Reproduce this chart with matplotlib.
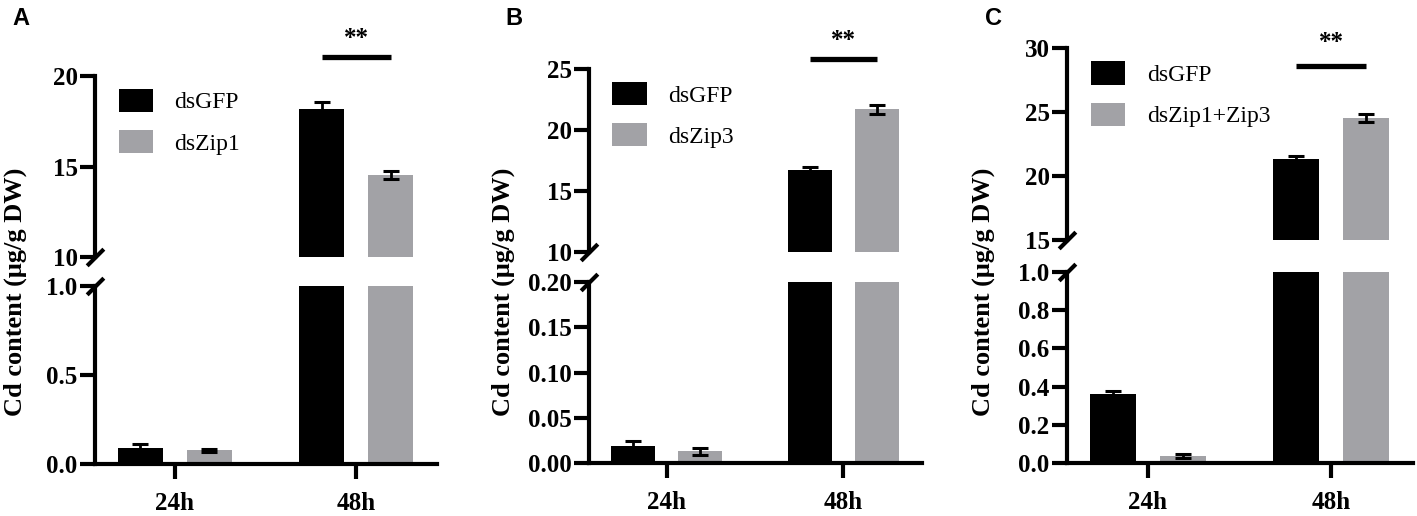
import matplotlib
matplotlib.use('Agg')
import matplotlib.pyplot as plt
import numpy as np

# data
groups = ['24h', '48h']

a_labels = ['dsGFP', 'dsZip1']
a_means = [[0.09, 18.2], [0.078, 14.52]]
a_errs = [[0.022, 0.38], [0.008, 0.22]]

b_labels = ['dsGFP', 'dsZip3']
b_means = [[0.019, 16.76], [0.0128, 21.69]]
b_errs = [[0.005, 0.22], [0.0037, 0.34]]

c_labels = ['dsGFP', 'dsZip1+Zip3']
c_means = [[0.363, 21.3], [0.037, 24.55]]
c_errs = [[0.012, 0.25], [0.012, 0.32]]

W, H = 1417, 516
colors = ['#000000', '#a2a2a6']
serif = 'Liberation Serif'
LW = 3

plt.rcParams['font.family'] = serif
plt.rcParams['font.weight'] = 'bold'
plt.rcParams['font.size'] = 18


def px_rect(x0, y_top, x1, y_bot):
    '''pixel box -> figure fraction [l, b, w, h]'''
    return [x0 / W, 1 - y_bot / H, (x1 - x0) / W, (y_bot - y_top) / H]


def draw_panel(fig, letter, labels, means, errs, lay):
    ax_lo = fig.add_axes(px_rect(lay['x0'], lay['lo'][0], lay['x1'], lay['lo'][1]))
    ax_hi = fig.add_axes(px_rect(lay['x0'], lay['hi'][0], lay['x1'], lay['hi'][1]))

    x = np.arange(len(groups))
    offs = [-0.19, 0.19]
    for ax in (ax_lo, ax_hi):
        for i in range(len(labels)):
            ax.bar(x + offs[i], means[i], width=0.25, color=colors[i],
                   label=labels[i], zorder=2)
            ax.errorbar(x + offs[i], means[i], yerr=errs[i], fmt='none',
                        ecolor='black', elinewidth=2, capsize=6, capthick=2.2,
                        zorder=3)
        ax.set_xlim(-0.44, 1.445)
        for s in ('top', 'right'):
            ax.spines[s].set_visible(False)
        for s in ('left', 'bottom'):
            ax.spines[s].set_linewidth(LW)
        ax.tick_params(axis='y', width=LW, length=11, pad=1.5, labelsize=18)
        ax.tick_params(axis='x', width=LW, length=11, pad=9, labelsize=18)

    ax_lo.set_ylim(0, lay['lo_top'])
    ax_lo.set_yticks(lay['lo_ticks'])
    ax_lo.set_yticklabels([lay['fmt'] % v for v in lay['lo_ticks']],
                          fontfamily=serif, fontweight='bold')
    ax_lo.set_xticks(x)
    ax_lo.set_xticklabels(groups, fontfamily=serif, fontweight='bold')

    ax_hi.set_ylim(lay['hi_lim'])
    ax_hi.set_yticks(lay['hi_ticks'])
    ax_hi.set_yticklabels(['%d' % v for v in lay['hi_ticks']],
                          fontfamily=serif, fontweight='bold')
    ax_hi.spines['bottom'].set_visible(False)
    ax_hi.set_xticks([])

    # break marks
    kw = dict(marker=[(-1, -1), (1, 1)], markersize=12, linestyle='none',
              color='k', mec='k', mew=LW, clip_on=False)
    ax_hi.plot([0], [0], transform=ax_hi.transAxes, **kw)
    ax_lo.plot([0], [1], transform=ax_lo.transAxes, **kw)

    # significance
    sy, ty = lay['sig']
    ax_hi.plot([1 - 0.19, 1 + 0.19], [sy, sy], color='k', lw=3.8,
               solid_capstyle='butt', clip_on=False)
    ax_hi.text(1, ty, '**', ha='center', va='center', fontsize=18,
               fontweight='bold', clip_on=False)

    ax_hi.legend(loc='upper left', bbox_to_anchor=(0.07, 0.93),
                 frameon=False, borderpad=0, borderaxespad=0,
                 handlelength=1.45, handleheight=1.15, handletextpad=0.9,
                 labelspacing=0.7,
                 prop={'family': serif, 'size': 17, 'weight': 'normal'})

    fig.text(lay['ylab_x'] / W, 1 - 292 / H, 'Cd content (μg/g DW)',
             rotation=90, ha='center', va='center', fontsize=19,
             fontweight='bold')
    fig.text(lay['x_letter'] / W, 1 - 7 / H, letter, ha='left', va='top',
             fontsize=17, fontfamily='Liberation Sans', fontweight='bold')


fig = plt.figure(figsize=(W / 100, H / 100), dpi=100)

lay_a = dict(x0=95, x1=437, lo=(286, 464), hi=(76, 257), lo_top=1.0,
             lo_ticks=[0.0, 0.5, 1.0], fmt='%.1f', hi_lim=(10, 20),
             hi_ticks=[10, 15, 20], sig=(21.05, 22.05), ylab_x=15, x_letter=12)
lay_b = dict(x0=589, x1=922, lo=(282, 463), hi=(69, 252), lo_top=0.20,
             lo_ticks=[0.0, 0.05, 0.10, 0.15, 0.20], fmt='%.2f', hi_lim=(10, 25),
             hi_ticks=[10, 15, 20, 25], sig=(25.8, 27.3), ylab_x=503, x_letter=505)
lay_c = dict(x0=1067, x1=1413, lo=(272, 463), hi=(48, 240), lo_top=1.0,
             lo_ticks=[0.0, 0.2, 0.4, 0.6, 0.8, 1.0], fmt='%.1f', hi_lim=(15, 30),
             hi_ticks=[15, 20, 25, 30], sig=(28.6, 30.4), ylab_x=983, x_letter=985)

draw_panel(fig, 'A', a_labels, a_means, a_errs, lay_a)
draw_panel(fig, 'B', b_labels, b_means, b_errs, lay_b)
draw_panel(fig, 'C', c_labels, c_means, c_errs, lay_c)

fig.savefig('out.png', dpi=100)
